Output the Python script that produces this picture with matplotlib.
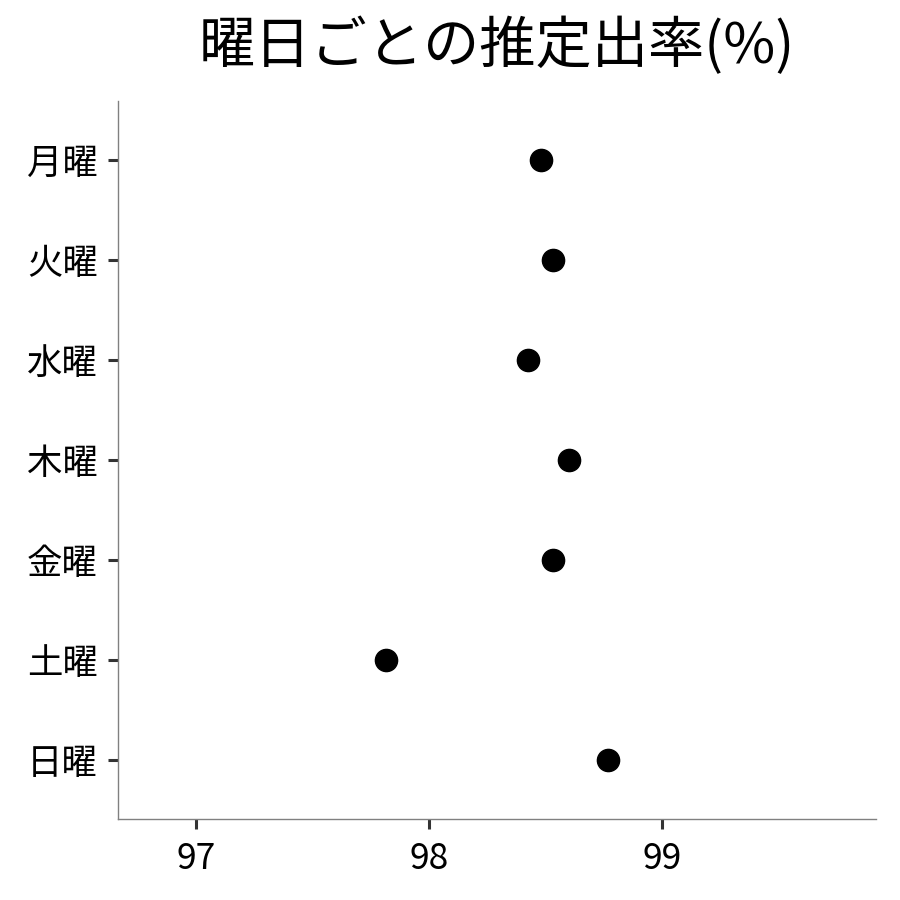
import matplotlib
matplotlib.use("Agg")
import matplotlib.pyplot as plt

plt.rcParams['font.family'] = ['Noto Sans CJK JP', 'DejaVu Sans']

days = ['月曜', '火曜', '水曜', '木曜', '金曜', '土曜', '日曜']
rates = [98.48, 98.53, 98.425, 98.60, 98.53, 97.815, 98.77]
xticks = [97, 98, 99]
title = '曜日ごとの推定出率(%)'

fig = plt.figure(figsize=(9, 9), dpi=100)
ax = fig.add_axes([118/900, 1 - 819/900, (876-118)/900, (819-101)/900])

ypos = list(range(len(days)))
ax.plot(rates, ypos, 'o', color='black', markersize=16, linestyle='none')

ax.set_yticks(ypos)
ax.set_yticklabels(days)
ax.set_ylim(len(days) - 1 + 0.59, -0.59)
ax.set_xticks(xticks)
ax.set_xticklabels([str(t) for t in xticks])
ax.set_xlim(96.665, 99.918)

for s in ['top', 'right']:
    ax.spines[s].set_visible(False)
for s in ['left', 'bottom']:
    ax.spines[s].set_color('#808080')
    ax.spines[s].set_linewidth(1.0)

ax.tick_params(axis='both', which='major', length=7.5, width=2.2, color='#333333',
               labelsize=25.5, labelcolor='black')
ax.tick_params(axis='y', pad=7)
ax.tick_params(axis='x', pad=8)

fig.text(497/900, 1 - 47/900, title, ha='center', va='center', fontsize=40.5, color='black')

fig.savefig('out.png', dpi=100, facecolor='white')
